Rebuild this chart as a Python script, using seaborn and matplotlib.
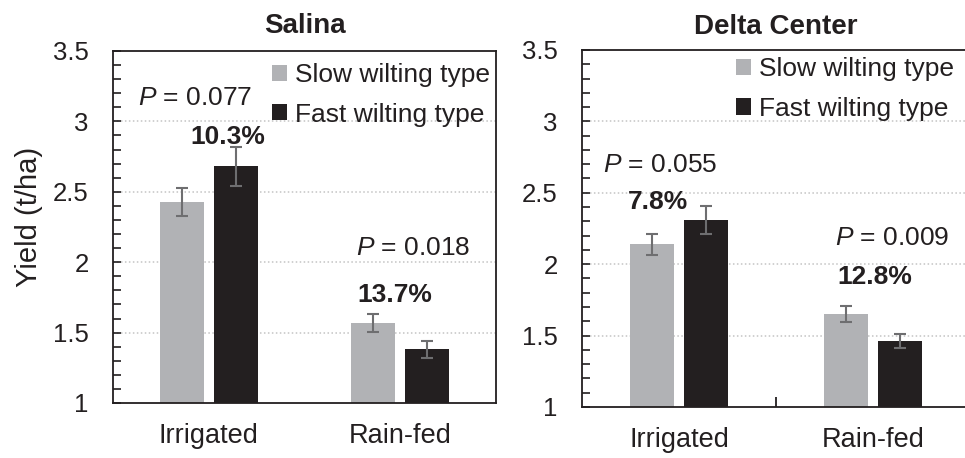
import numpy as np
import pandas as pd
import matplotlib
matplotlib.use("Agg")
import matplotlib.pyplot as plt
import seaborn as sns
from matplotlib.ticker import MultipleLocator, FixedLocator

# ---------------- data ----------------
sites = ["Salina", "Delta Center"]
conditions = ["Irrigated", "Rain-fed"]
types = ["Slow wilting type", "Fast wilting type"]

salina_slow = [2.43, 1.57]
salina_fast = [2.68, 1.38]
salina_slow_err = [0.10, 0.065]
salina_fast_err = [0.14, 0.063]
salina_p = ["0.077", "0.018"]
salina_pct = ["10.3%", "13.7%"]

delta_slow = [2.14, 1.65]
delta_fast = [2.31, 1.46]
delta_slow_err = [0.074, 0.057]
delta_fast_err = [0.10, 0.05]
delta_p = ["0.055", "0.009"]
delta_pct = ["7.8%", "12.8%"]

y_ticks = [1, 1.5, 2, 2.5, 3, 3.5]
y_tick_labels = ["1", "1.5", "2", "2.5", "3", "3.5"]

# ---------------- style ----------------
sns.set_theme(style="white")
plt.rcParams["font.family"] = ["Liberation Sans", "DejaVu Sans"]
plt.rcParams["mathtext.fontset"] = "custom"
plt.rcParams["mathtext.rm"] = "Liberation Sans"
plt.rcParams["mathtext.it"] = "Liberation Sans:italic"

palette = {"Slow wilting type": "#b1b2b5", "Fast wilting type": "#231f20"}
err_color = "#6e6e70"
text_color = "#231f20"

fig = plt.figure(figsize=(9.65, 4.58), dpi=100)
ax1 = fig.add_axes([0.1171, 0.1201, 0.3969, 0.7686])
ax2 = fig.add_axes([0.6031, 0.1114, 0.4021, 0.7795])

panels = [
    (ax1, "Salina", salina_slow, salina_fast, salina_slow_err, salina_fast_err, salina_p, salina_pct,
     [(-0.07, 3.166), (1.068, 2.10)], [(0.099, 2.889), (0.974, 1.767)], (0.415, 0.965), 13.3),
    (ax2, "Delta Center", delta_slow, delta_fast, delta_slow_err, delta_fast_err, delta_p, delta_pct,
     [(-0.095, 2.695), (1.098, 2.183)], [(-0.108, 2.436), (1.010, 1.910)], (0.397, 0.979), 11.5),
]

for (ax, title, slow, fast, slow_err, fast_err, pvals, pcts, ppos, pctpos, legpos, tpad) in panels:
    df = pd.DataFrame({
        "Condition": conditions * 2,
        "Type": [types[0]] * 2 + [types[1]] * 2,
        "Yield": slow + fast,
        "Err": slow_err + fast_err,
    })
    sns.barplot(data=df, x="Condition", y="Yield", hue="Type", order=conditions,
                hue_order=types, palette=palette, errorbar=None, width=0.56, gap=0.18,
                linewidth=0, saturation=1, ax=ax)
    # error bars, located at the centres of the bars the library drew
    bars = [p for p in ax.patches if p.get_height() > 0]
    for p, e in zip(bars, list(slow_err) + list(fast_err)):
        xc = p.get_x() + p.get_width() / 2
        ax.errorbar(xc, p.get_y() + p.get_height(), yerr=e, fmt="none",
                    ecolor=err_color, elinewidth=1.5, capsize=4.5, capthick=1.5, zorder=5)

    ax.set_ylim(1, 3.5)
    ax.set_xlim(-0.5, 1.5)
    ax.yaxis.set_major_locator(FixedLocator(y_ticks))
    ax.set_yticklabels(y_tick_labels)
    ax.yaxis.set_minor_locator(MultipleLocator(0.1))
    ax.tick_params(axis="y", which="both", direction="in", length=6, width=1.2,
                   color="#231f20", labelsize=18.5, pad=17.5, labelcolor=text_color, left=True)
    ax.set_xlabel("")
    ax.set_ylabel("")
    ax.tick_params(axis="x", labelsize=19.5, pad=8.5, labelcolor=text_color)
    for gy in [1.5, 2, 2.5, 3]:
        ax.axhline(gy, color="#c4c4c4", lw=1.1, ls=(0, (1, 1.6)), zorder=0)
    for s in ax.spines.values():
        s.set_color("#231f20")
        s.set_linewidth(1.3)
        s.set_visible(True)
    ax.set_title(title, fontsize=20, fontweight="bold", color=text_color, pad=tpad)

    for (x, y), pv in zip(ppos, pvals):
        ax.text(x, y, r"$\it{P}$" + " = " + pv, ha="center", va="center",
                fontsize=19, color=text_color)
    for (x, y), pc in zip(pctpos, pcts):
        ax.text(x, y, pc, ha="center", va="center", fontsize=19,
                fontweight="bold", color=text_color)

    leg = ax.legend(loc="upper left", bbox_to_anchor=legpos, frameon=False,
                    fontsize=19, handlelength=0.57, handleheight=0.57,
                    handletextpad=0.3, labelspacing=0.58, borderpad=0,
                    borderaxespad=0)
    for t in leg.get_texts():
        t.set_color(text_color)

# x tick only on the right panel: boundary tick between categories
ax1.tick_params(axis="x", bottom=False)
ax2.xaxis.set_minor_locator(FixedLocator([0.5]))
ax2.tick_params(axis="x", which="major", bottom=False)
ax2.tick_params(axis="x", which="minor", bottom=True, direction="in", length=7,
                width=1.3, color="#231f20")
ax2.spines["right"].set_visible(False)

fig.text(0.03, 0.526, "Yield (t/ha)", rotation=90, ha="center", va="center",
         fontsize=21, color=text_color)

fig.savefig("out.png", dpi=100)
